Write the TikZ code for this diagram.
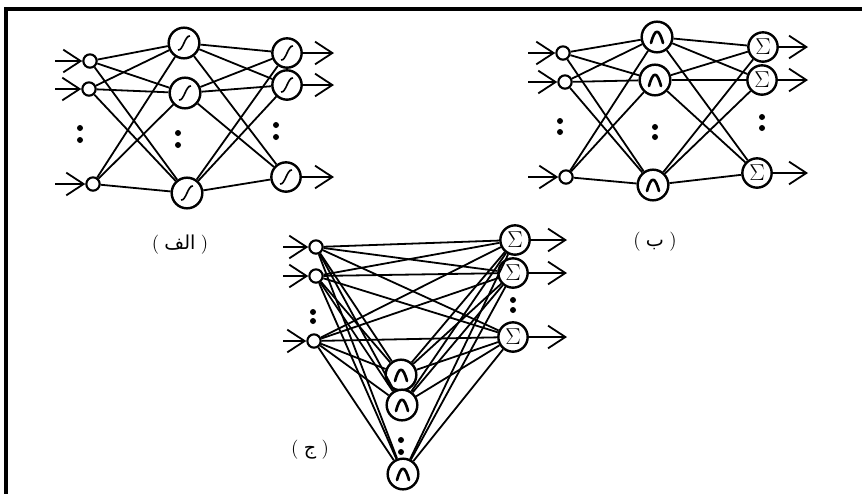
\documentclass[tikz,border=0pt]{standalone}
\usepackage{fontspec}
\newfontfamily\arabicfont[Script=Arabic]{DejaVu Sans}
\TeXXeTstate=1
\usetikzlibrary{arrows.meta}
\begin{document}
\begin{tikzpicture}[x=0.75pt,y=-0.75pt,
  conn/.style={line width=1.35pt,black},
  frameline/.style={line width=2.4pt,black},
  inp/.style={circle,draw,line width=1.6pt,minimum size=10pt,inner sep=0pt,fill=white},
  hid/.style={circle,draw,line width=1.8pt,minimum size=23pt,inner sep=0pt,fill=white},
  outn/.style={circle,draw,line width=1.8pt,minimum size=22pt,inner sep=0pt,fill=white},
  sig/.style={hid,path picture={\draw[line width=1.2pt]
     ([shift={(-6,7)}]path picture bounding box.center) .. controls ([shift={(-1,8)}]path picture bounding box.center) and ([shift={(1,-8)}]path picture bounding box.center) .. ([shift={(6,-7)}]path picture bounding box.center);}},
  osig/.style={outn,path picture={\draw[line width=1.2pt]
     ([shift={(-6,7)}]path picture bounding box.center) .. controls ([shift={(-1,8)}]path picture bounding box.center) and ([shift={(1,-8)}]path picture bounding box.center) .. ([shift={(6,-7)}]path picture bounding box.center);}},
  gau/.style={hid,path picture={\draw[line width=2pt,line cap=round,line join=round]
     ([shift={(-6,6)}]path picture bounding box.center) .. controls ([shift={(-2,-9)}]path picture bounding box.center) and ([shift={(2,-9)}]path picture bounding box.center) .. ([shift={(6,6)}]path picture bounding box.center);}},
  sumn/.style={outn,font=\LARGE,node contents={$\Sigma$}},
  inarr/.style={line width=1.35pt,-{Straight Barb[length=13pt,width=17pt,line width=1.35pt]}},
  outarr/.style={line width=1.35pt,-{Straight Barb[length=13pt,width=17pt,line width=1.35pt]}},
  vdot/.style={circle,fill=black,inner sep=0pt,minimum size=4.5pt},
  lab/.style={font=\Large}
]
\useasboundingbox (0,0) rectangle (862,494);
% frame
\coordinate (ftl) at (6,9);
\coordinate (ftr) at (862,9);
\coordinate (fbl) at (6,494);
\draw[frameline] (ftr) -- (ftl) -- (fbl);

% ---------- (alef) ----------
\node[inp] (a1) at (90,61) {};
\node[inp] (a2) at (89,89) {};
\node[inp] (a3) at (93,184) {};
\node[sig] (ah1) at (184,43) {};
\node[sig] (ah2) at (185,93) {};
\node[sig] (ah3) at (187,193) {};
\node[osig] (ao1) at (287,53) {};
\node[osig] (ao2) at (287,85) {};
\node[osig] (ao3) at (286,177) {};
\foreach \i in {1,2,3}{\foreach \j in {1,2,3}{
  \draw[conn] (a\i) -- (ah\j);
  \draw[conn] (ah\i) -- (ao\j);
}}
\foreach \n/\y in {1/61,2/89,3/184}{
  \coordinate (a\n in) at (55,\y);
  \draw[inarr] (a\n in) -- (a\n);
}
\foreach \n/\y in {1/53,2/85,3/177}{
  \coordinate (a\n out) at (334,\y);
  \draw[outarr] (ao\n) -- (a\n out);
}
\node[vdot] (ad1) at (80,128) {}; \node[vdot] (ad2) at (80,140) {};
\node[vdot] (ad3) at (178,133) {}; \node[vdot] (ad4) at (178,145) {};
\node[vdot] (ad5) at (276,125) {}; \node[vdot] (ad6) at (276,137) {};
\node[lab] (alab) at (180,245) {(\;{\arabicfont\beginR الف\endR}\;)};

% ---------- (be) ----------
\node[inp] (b1) at (563,53) {};
\node[inp] (b2) at (565,82) {};
\node[inp] (b3) at (566,177) {};
\node[gau] (bh1) at (657,37) {};
\node[gau] (bh2) at (655,80) {};
\node[gau] (bh3) at (653,185) {};
\node (bo1) at (763,47) [sumn];
\node (bo2) at (762,80) [sumn];
\node (bo3) at (757,173) [sumn];
\foreach \i in {1,2,3}{\foreach \j in {1,2,3}{
  \draw[conn] (b\i) -- (bh\j);
  \draw[conn] (bh\i) -- (bo\j);
}}
\foreach \n/\y in {1/53,2/82,3/177}{
  \coordinate (b\n in) at (528,\y);
  \draw[inarr] (b\n in) -- (b\n);
}
\foreach \n/\y in {1/47,2/80,3/173}{
  \coordinate (b\n out) at (808,\y);
  \draw[outarr] (bo\n) -- (b\n out);
}
\node[vdot] (bd1) at (560,121) {}; \node[vdot] (bd2) at (560,132) {};
\node[vdot] (bd3) at (655,127) {}; \node[vdot] (bd4) at (655,137) {};
\node[vdot] (bd5) at (762,117) {}; \node[vdot] (bd6) at (762,128) {};
\node[lab] (blab) at (655,242) {(\;{\arabicfont\beginR ب\endR}\;)};

% ---------- (jim) ----------
\node[inp] (c1) at (316,247) {};
\node[inp] (c2) at (316,276) {};
\node[inp] (c3) at (314,341) {};
\node (co1) at (515,240) [sumn];
\node (co2) at (513,273) [sumn];
\node (co3) at (513,337) [sumn];
\node[gau] (ch1) at (401,375) {};
\node[gau] (ch2) at (402,405) {};
\node[gau] (ch3) at (403,474) {};
\foreach \i in {1,2,3}{\foreach \j in {1,2,3}{
  \draw[conn] (c\i) -- (co\j);
  \draw[conn] (c\i) -- (ch\j);
  \draw[conn] (ch\i) -- (co\j);
}}
\foreach \n/\y in {1/247,2/276,3/341}{
  \coordinate (c\n in) at (283,\y);
  \draw[inarr] (c\n in) -- (c\n);
}
\foreach \n/\y in {1/240,2/273,3/337}{
  \coordinate (c\n out) at (567,\y);
  \draw[outarr] (co\n) -- (c\n out);
}
\node[vdot] (cd1) at (313,312) {}; \node[vdot] (cd2) at (313,321) {};
\node[vdot] (cd3) at (513,300) {}; \node[vdot] (cd4) at (513,310) {};
\node[vdot] (cd5) at (401,440) {}; \node[vdot] (cd6) at (401,452) {};
\node[lab] (clab) at (310,450) {(\;{\arabicfont\beginR ج\endR}\;)};
\end{tikzpicture}
\end{document}
